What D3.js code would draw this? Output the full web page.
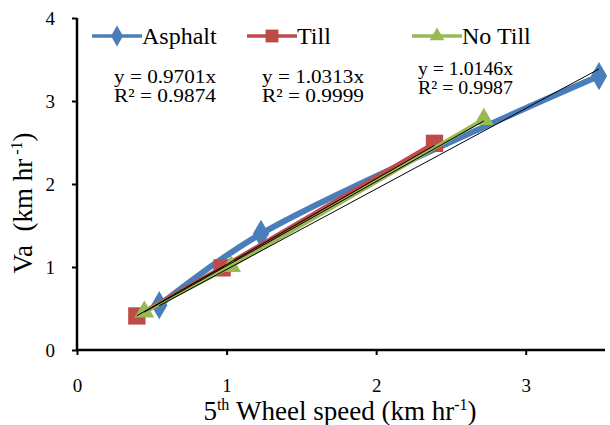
<!DOCTYPE html>
<html>
<head>
<meta charset="utf-8">
<script src="https://cdn.jsdelivr.net/npm/d3@7"></script>
<style>
  body { margin: 0; background: #fff; }
</style>
</head>
<body>
<div id="chart"></div>
<script>
// data
const asphaltX = [0.55, 1.23, 3.49];
const asphaltY = [0.54, 1.40, 3.30];
const tillX = [0.40, 0.97, 2.39];
const tillY = [0.41, 0.99, 2.49];
const noTillX = [0.45, 1.03, 2.72];
const noTillY = [0.46, 1.01, 2.78];

const seriesNames = ["Asphalt", "Till", "No Till"];
const slopes = [0.9701, 1.0313, 1.0146];
const r2Labels = ["0.9874", "0.9999", "0.9987"];
const xTicks = [0, 1, 2, 3];
const yTicks = [0, 1, 2, 3, 4];

const FONT = "'Liberation Serif', 'Times New Roman', 'DejaVu Serif', serif";
const W = 610, H = 425;
const margin = { top: 18, right: 5, bottom: 75, left: 77 };

const svg = d3.select("#chart").append("svg")
    .attr("width", W)
    .attr("height", H)
    .style("font-family", FONT);

const x = d3.scaleLinear().domain([0, 3.53]).range([margin.left, W - margin.right]);
const y = d3.scaleLinear().domain([0, 4]).range([H - margin.bottom, margin.top]);

// axes
const xAxis = svg.append("g")
    .attr("transform", `translate(0,${y(0)})`)
    .call(d3.axisBottom(x).tickValues(xTicks).tickSize(5).tickFormat(d3.format("d")));
xAxis.select(".domain").attr("stroke-width", 2.5).attr("d", `M${x(0)},0H${W - margin.right}`);
xAxis.selectAll(".tick line").attr("stroke-width", 2);
xAxis.selectAll(".tick text").attr("y", 42).attr("dy", 0).style("font-size", "19px").attr("fill", "#000");

const yAxis = svg.append("g")
    .attr("transform", `translate(${x(0)},0)`)
    .call(d3.axisLeft(y).tickValues(yTicks).tickSize(5).tickFormat(d3.format("d")));
yAxis.select(".domain").attr("stroke-width", 2.5).attr("d", `M0,${y(0)}V${y(4)}`);
yAxis.selectAll(".tick line").attr("stroke-width", 2);
yAxis.selectAll(".tick text").attr("x", -22).style("font-size", "19px").attr("fill", "#000");

// axis titles
const xt = svg.append("text")
    .attr("x", 340).attr("y", 420)
    .attr("text-anchor", "middle")
    .style("font-size", "27px");
xt.append("tspan").text("5");
xt.append("tspan").attr("dy", -10).style("font-size", "16px").text("th");
xt.append("tspan").attr("dy", 10).text("\u00a0Wheel speed (km hr");
xt.append("tspan").attr("dy", -10).style("font-size", "16px").text("-1");
xt.append("tspan").attr("dy", 10).text(")");

const yt = svg.append("text")
    .attr("transform", `translate(32,203) rotate(-90)`)
    .attr("text-anchor", "middle")
    .style("font-size", "27px");
yt.append("tspan").text("Va\u00a0\u00a0(km hr");
yt.append("tspan").attr("dy", -10).style("font-size", "16px").text("\u00a0-1");
yt.append("tspan").attr("dy", 10).text(")");

const series = [
  { xs: asphaltX, ys: asphaltY, color: "#4a7ebb", width: 6, shape: d3.symbolDiamond, size: 230, curve: d3.curveCatmullRom },
  { xs: tillX, ys: tillY, color: "#be4b48", width: 5, shape: d3.symbolSquare, size: 300, curve: d3.curveLinear },
  { xs: noTillX, ys: noTillY, color: "#98b954", width: 4, shape: d3.symbolTriangle, size: 170, curve: d3.curveLinear }
];

const line = d3.line();

series.forEach(s => {
  const pts = s.xs.map((v, j) => [v, s.ys[j]]);
  svg.append("path")
      .attr("fill", "none")
      .attr("stroke", s.color)
      .attr("stroke-width", s.width)
      .attr("stroke-linejoin", "round")
      .attr("d", line.curve(s.curve).x(d => x(d[0])).y(d => y(d[1]))(pts));
  svg.selectAll(null)
      .data(pts)
      .enter().append("path")
      .attr("transform", d => `translate(${x(d[0])},${y(d[1])})`)
      .attr("d", d3.symbol().type(s.shape).size(s.size))
      .attr("fill", s.color);
});

// linear trendlines through origin, over the range of each series
series.forEach((s, i) => {
  const x0 = d3.min(s.xs), x1 = d3.max(s.xs);
  svg.append("line")
      .attr("x1", x(x0)).attr("y1", y(slopes[i] * x0))
      .attr("x2", x(x1)).attr("y2", y(slopes[i] * x1))
      .attr("stroke", "#000")
      .attr("stroke-width", 1);
});

// legend
const legendX = [92, 247, 412];
series.forEach((s, i) => {
  const g = svg.append("g").attr("transform", `translate(${legendX[i]},36)`);
  g.append("line").attr("x1", 0).attr("x2", 50).attr("stroke", s.color).attr("stroke-width", 3.5);
  g.append("path").attr("transform", "translate(25,0)")
      .attr("d", d3.symbol().type(s.shape).size(s.size * 0.55)).attr("fill", s.color);
  g.append("text").attr("x", 50).attr("y", 8).style("font-size", "24px").text(seriesNames[i]);
});

// equations
const eqPos = [[114, 83], [262, 83], [418, 75]];
const eqWidth = [102, 102, 95];
series.forEach((s, i) => {
  const g = svg.append("g").style("font-size", "19px");
  g.append("text").attr("x", eqPos[i][0]).attr("y", eqPos[i][1])
      .attr("textLength", eqWidth[i]).attr("lengthAdjust", "spacingAndGlyphs")
      .text(`y = ${slopes[i].toFixed(4)}x`);
  g.append("text").attr("x", eqPos[i][0]).attr("y", eqPos[i][1] + 19)
      .attr("textLength", eqWidth[i]).attr("lengthAdjust", "spacingAndGlyphs")
      .text(`R² = ${r2Labels[i]}`);
});

svg.selectAll("text").style("font-family", FONT);
</script>
</body>
</html>
